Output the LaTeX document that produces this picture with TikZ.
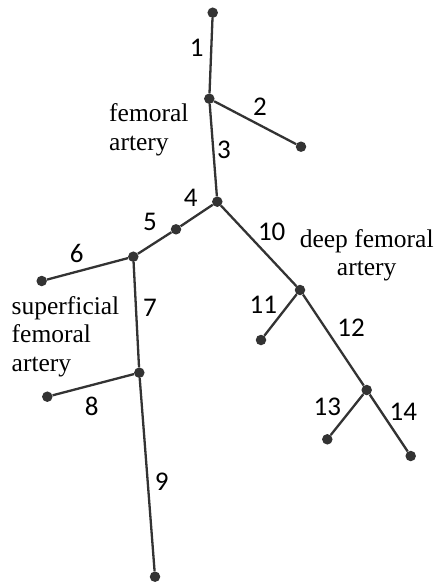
\documentclass[tikz,border=0pt]{standalone}
\usepackage{fontspec}
\setmainfont{Liberation Serif}
\newfontfamily\numfont{Carlito}
\definecolor{ink}{HTML}{333333}
\begin{document}
\begin{tikzpicture}[x=1pt,y=-1pt,
  pt/.style={circle,fill=ink,inner sep=0pt,minimum size=10.5pt},
  seg/.style={draw=ink,line width=2.3pt},
  num/.style={font=\numfont\fontsize{27}{30}\selectfont,text=black,inner sep=0pt},
  lab/.style={font=\fontsize{25.5}{28.5}\selectfont,text=black,inner sep=0pt,align=left}]
\useasboundingbox (0,0) rectangle (437,585);
\node[pt] (top) at (212.7,12.7) {};
\node[pt] (a) at (209.3,98.7) {};
\node[pt] (a2) at (301,146.7) {};
\node[pt] (b) at (217.3,201.7) {};
\node[pt] (c) at (176,229.3) {};
\node[pt] (d) at (133.3,256.7) {};
\node[pt] (d6) at (41.7,281) {};
\node[pt] (e) at (139.3,372.7) {};
\node[pt] (e8) at (47.3,396.7) {};
\node[pt] (e9) at (155,576.7) {};
\node[pt] (f) at (300,290) {};
\node[pt] (f11) at (261,340) {};
\node[pt] (g) at (366.7,390) {};
\node[pt] (g13) at (327.3,439.3) {};
\node[pt] (g14) at (410.7,456) {};
\path[seg] (top) -- (a) (a) -- (a2) (a) -- (b) (b) -- (c) (c) -- (d) (d) -- (d6)
  (d) -- (e) (e) -- (e8) (e) -- (e9) (b) -- (f) (f) -- (f11) (f) -- (g)
  (g) -- (g13) (g) -- (g14);
\node[num] (n1) at (196.7,47.7) {1};
\node[num] (n2) at (260,106.7) {2};
\node[num] (n3) at (224,150) {3};
\node[num] (n4) at (190.7,198) {4};
\node[num] (n5) at (150,222) {5};
\node[num] (n6) at (76.7,253.3) {6};
\node[num] (n7) at (150,308.3) {7};
\node[num] (n8) at (91.7,406) {8};
\node[num] (n9) at (161.7,481.7) {9};
\node[num] (n10) at (271.7,231.7) {10};
\node[num] (n11) at (263.3,305) {11};
\node[num] (n12) at (351,328) {12};
\node[num] (n13) at (327.3,407.3) {13};
\node[num] (n14) at (403.3,411.7) {14};
\node[lab,anchor=west] (fa) at (109,130) {femoral\\artery};
\node[lab,align=center] (dfa) at (366.7,255.5) {deep femoral\\artery};
\node[lab,anchor=west] (sfa) at (11.5,336.5) {superficial\\femoral\\artery};
\end{tikzpicture}
\end{document}
